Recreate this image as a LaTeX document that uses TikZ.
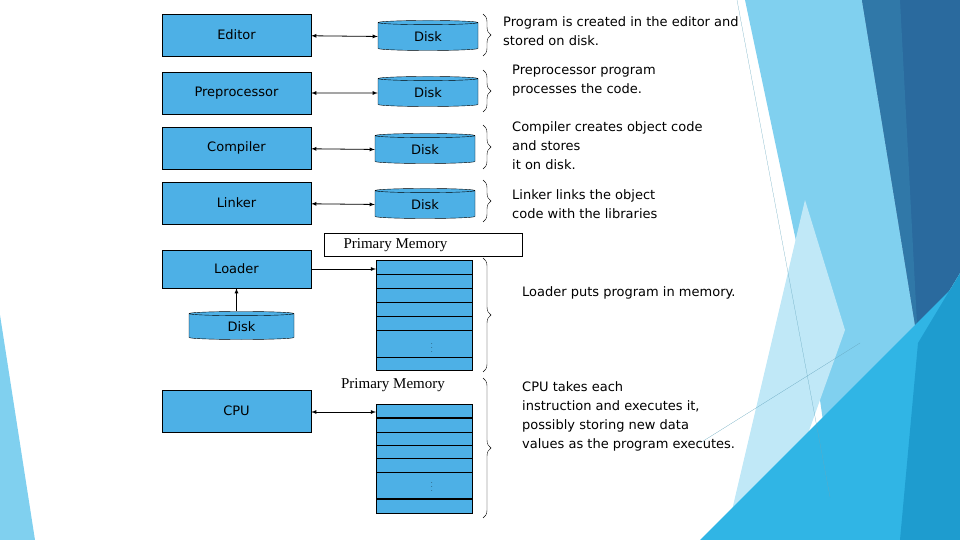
\documentclass[tikz,border=0pt]{standalone}
\usepackage{fontspec}
\setmainfont{DejaVu Sans}
\newfontfamily\memfont{Liberation Serif}
\usetikzlibrary{shapes.geometric,arrows,positioning,decorations.pathreplacing}

\definecolor{boxblue}{HTML}{4DB0E6}
\definecolor{lightbg}{HTML}{80D0EF}
\definecolor{palebg}{HTML}{C0E8F7}
\definecolor{darkbg}{HTML}{2A6A9E}
\definecolor{midbg}{HTML}{3078A8}
\definecolor{lowbg}{HTML}{30B5E5}
\definecolor{deepbg}{HTML}{1E9CCF}

\begin{document}
\begin{tikzpicture}[
        x=1pt, y=-1pt,
        process/.style={rectangle, draw, fill=boxblue, minimum width=149pt, minimum height=42pt, font=\fontsize{13}{15}\selectfont},
        disk/.style={cylinder, shape border rotate=90, aspect=0.12, draw, fill=boxblue, minimum width=100pt, minimum height=30pt, font=\fontsize{13}{15}\selectfont},
        cell/.style={rectangle, draw, fill=boxblue, minimum width=96pt, inner sep=0pt},
        note/.style={anchor=north west, align=left, inner sep=0pt, font=\fontsize{13}{19}\selectfont},
        memlabel/.style={font=\memfont\fontsize{15}{17}\selectfont},
        arrow/.style={draw, thick, latex-latex},
        brace/.style={decorate, decoration={brace, amplitude=8pt}, thin}
    ]
    \useasboundingbox (0,0) rectangle (960,540);

    % background shapes
    \fill[lightbg] (745,0) -- (862,0) -- (918,343) -- (880,540) -- (840,540) -- (800,260) -- cycle;
    \fill[palebg] (805,200) -- (845,330) -- (770,540) -- (725,540) -- cycle;
    \fill[darkbg] (862,0) -- (960,0) -- (960,273) -- (918,343) -- cycle;
    \fill[midbg] (862,0) -- (900,0) -- (918,343) -- cycle;
    \fill[lowbg] (700,540) -- (960,280) -- (960,540) -- cycle;
    \fill[deepbg] (918,343) -- (960,273) -- (960,540) -- (900,540) -- cycle;
    \fill[lightbg] (0,315) -- (35,540) -- (0,540) -- cycle;
    \draw[lightbg!80!black, very thin] (737,0) -- (830,497);
    \draw[lightbg!80!black, very thin] (700,443) -- (860,343);

    % stages with their disks
    \node [process] (editor) at (236.5,35) {Editor};
    \node [process] (prep) at (236.5,93) {Preprocessor};
    \node [process] (compiler) at (236.5,148) {Compiler};
    \node [process] (linker) at (236.5,203) {Linker};
    \node [disk] (disk1) at (428,37) {Disk};
    \node [disk] (disk2) at (428,93) {Disk};
    \node [disk] (disk3) at (425,150) {Disk};
    \node [disk] (disk4) at (425,205) {Disk};
    \path [arrow] (editor) -- (disk1);
    \path [arrow] (prep) -- (disk2);
    \path [arrow] (compiler) -- (disk3);
    \path [arrow] (linker) -- (disk4);

    % loader and memory
    \node [draw, rectangle, minimum width=198pt, minimum height=23pt, anchor=north west, inner sep=0pt] (pmbox) at (324,233) {};
    \node [memlabel, anchor=west] (pmtext) at (340,245) {Primary Memory};
    \node [process, minimum height=38pt] (loader) at (236.5,269) {Loader};
    \node [disk, minimum width=105pt, minimum height=28pt] (disk5) at (241.5,327) {Disk};
    \node [cell, anchor=north west, minimum height=110pt] (mem1) at (376,260) {};
    \foreach \y in {274,288,302,316,330,357}
        \draw (376,\y) -- (472,\y);
    \node [font=\tiny] (dots1) at (432,345) {$\vdots$};
    \path [draw, thick, -latex] (disk5.north -| loader) -- (loader.south);
    \path [draw, thick, -latex] (loader.east) -- (mem1.west |- loader.east);

    % cpu and memory
    \node [memlabel] (pmtext2) at (393,385) {Primary Memory};
    \node [process] (cpu) at (236.5,411) {CPU};
    \node [cell, anchor=north west, minimum height=109pt] (mem2) at (376,404) {};
    \foreach \y/\w in {418/1.4pt,432/0.4pt,445/0.4pt,458/0.4pt,472/0.4pt,499/1.4pt}
        \draw[line width=\w] (376,\y) -- (472,\y);
    \node [font=\tiny] (dots2) at (432,484) {$\vdots$};
    \path [arrow] (cpu.east |- 0,412) -- (mem2.west |- 0,412);

    % braces and notes
    \draw[brace] (483,14) -- (483,56);
    \draw[brace] (483,70) -- (483,112);
    \draw[brace] (483,125) -- (483,169);
    \draw[brace] (483,180) -- (483,222);
    \draw[brace] (483,258) -- (483,372);
    \draw[brace] (483,378) -- (483,518);
    \node [note] (note1) at (503,16) {Program is created in the editor and\\stored on disk.};
    \node [note] (note2) at (512,65) {Preprocessor program\\processes the code.};
    \node [note] (note3) at (512,121) {Compiler creates object code\\and stores\\it on disk.};
    \node [note] (note4) at (512,189) {Linker links the object\\code with the libraries};
    \node [note, align=justify, text width=223pt] (note5) at (522,286) {Loader puts program in memory.};
    \node [note] (note6) at (522,381) {CPU takes each\\instruction and executes it,\\possibly storing new data\\values as the program executes.};
\end{tikzpicture}
\end{document}
